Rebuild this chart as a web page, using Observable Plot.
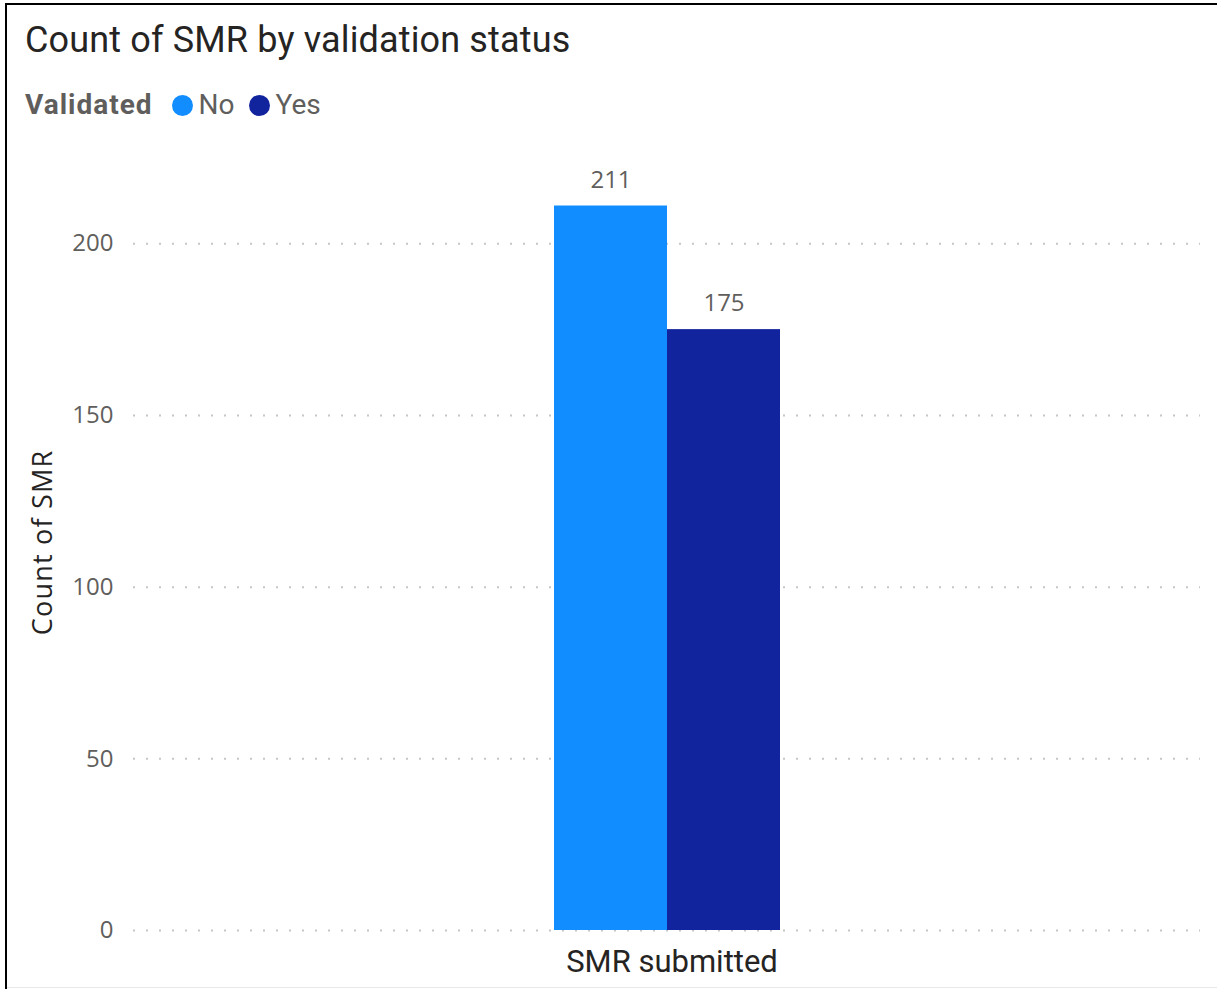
<!DOCTYPE html>
<html>
<head>
<meta charset="utf-8">
<script src="https://cdn.jsdelivr.net/npm/d3@7"></script>
<script src="https://cdn.jsdelivr.net/npm/@observablehq/plot@0.6"></script>
<style>
  html, body { margin: 0; padding: 0; background: #fff; }
  #wrap { position: relative; width: 1217px; height: 989px; overflow: hidden; background: #fff; }
  .bl { position: absolute; left: 5px; top: 3px; width: 2px; height: 986px; background: #000; }
  .bt { position: absolute; left: 5px; top: 3px; width: 1212px; height: 2px; background: #000; }
  .bb { position: absolute; left: 7px; top: 987px; width: 1210px; height: 1px; background: #e8e8e8; }
  #title { position: absolute; left: 25px; top: 22px; font-family: Roboto, sans-serif; font-size: 36px; line-height: 36px; color: #252423; white-space: nowrap; letter-spacing: 0.15px; }
  #legend { position: absolute; left: 25px; top: 91px; height: 28px; font-family: Roboto, sans-serif; font-size: 28px; line-height: 28px; color: #605E5C; white-space: nowrap; display: flex; align-items: center; }
  #legend .lt { font-weight: bold; margin-right: 19px; letter-spacing: 1px; }
  #legend .dot { display: inline-block; width: 21px; height: 21px; border-radius: 50%; margin-right: 6px; }
  #legend .item { display: inline-flex; align-items: center; margin-right: 14px; }
  #legend .item span:last-child { letter-spacing: 0px; }
  #chart { position: absolute; left: 0; top: 150px; }
  g[aria-label="y-axis label"], g[aria-label="y-axis label"] text { font-size: 27px; fill: #252423; font-family: "Open Sans", sans-serif; letter-spacing: 1.2px; }
</style>
</head>
<body>
<div id="wrap">
  <div class="bl"></div><div class="bt"></div><div class="bb"></div>
  <div id="title"></div>
  <div id="legend"></div>
  <div id="chart"></div>
</div>
<script>
const titleText = "Count of SMR by validation status";
const legendTitle = "Validated";
const categories = ["SMR submitted"];
const validated = ["No", "Yes"];
const counts = [211, 175];
const colors = ["#118DFF", "#12239E"];
const yTicks = [0, 50, 100, 150, 200];
const yLabel = "Count of SMR";

document.getElementById("title").textContent = titleText;
const legend = document.getElementById("legend");
const lt = document.createElement("span"); lt.className = "lt"; lt.textContent = legendTitle; legend.appendChild(lt);
validated.forEach((v, i) => {
  const it = document.createElement("span"); it.className = "item";
  const d = document.createElement("span"); d.className = "dot"; d.style.background = colors[i];
  const t = document.createElement("span"); t.textContent = v;
  it.appendChild(d); it.appendChild(t); legend.appendChild(it);
});

const data = validated.map((v, i) => ({category: categories[0], validated: v, count: counts[i]}));

const chart = Plot.plot({
  width: 1217,
  height: 839,
  marginLeft: 133,
  marginRight: 17,
  marginTop: 4,
  marginBottom: 59,
  style: {background: "transparent", fontFamily: "'Open Sans', sans-serif"},
  x: {domain: validated, paddingInner: 0, paddingOuter: 3.72, axis: null},
  y: {domain: [0, 226], axis: null},
  color: {domain: validated, range: colors},
  marks: [
    Plot.ruleY(yTicks, {stroke: "#c8c6c4", strokeWidth: 2, strokeDasharray: "2,11"}),
    Plot.axisY(yTicks, {tickSize: 0, tickPadding: 20, fontSize: 24, fill: "#605E5C",
      label: yLabel, labelAnchor: "center", labelOffset: 101, labelArrow: "none"}),
    Plot.barY(data, {x: "validated", y: "count", fill: "validated", inset: 0}),
    Plot.text(data, {x: "validated", y: "count", text: d => String(d.count), dy: -26, fontSize: 24, fill: "#605E5C"}),
    Plot.text(categories, {text: d => d, frameAnchor: "bottom", lineAnchor: "middle", dx: 5, dy: 32, fontSize: 31, fill: "#252423", fontFamily: "Roboto, sans-serif"})
  ]
});
document.getElementById("chart").appendChild(chart);
</script>
</body>
</html>
